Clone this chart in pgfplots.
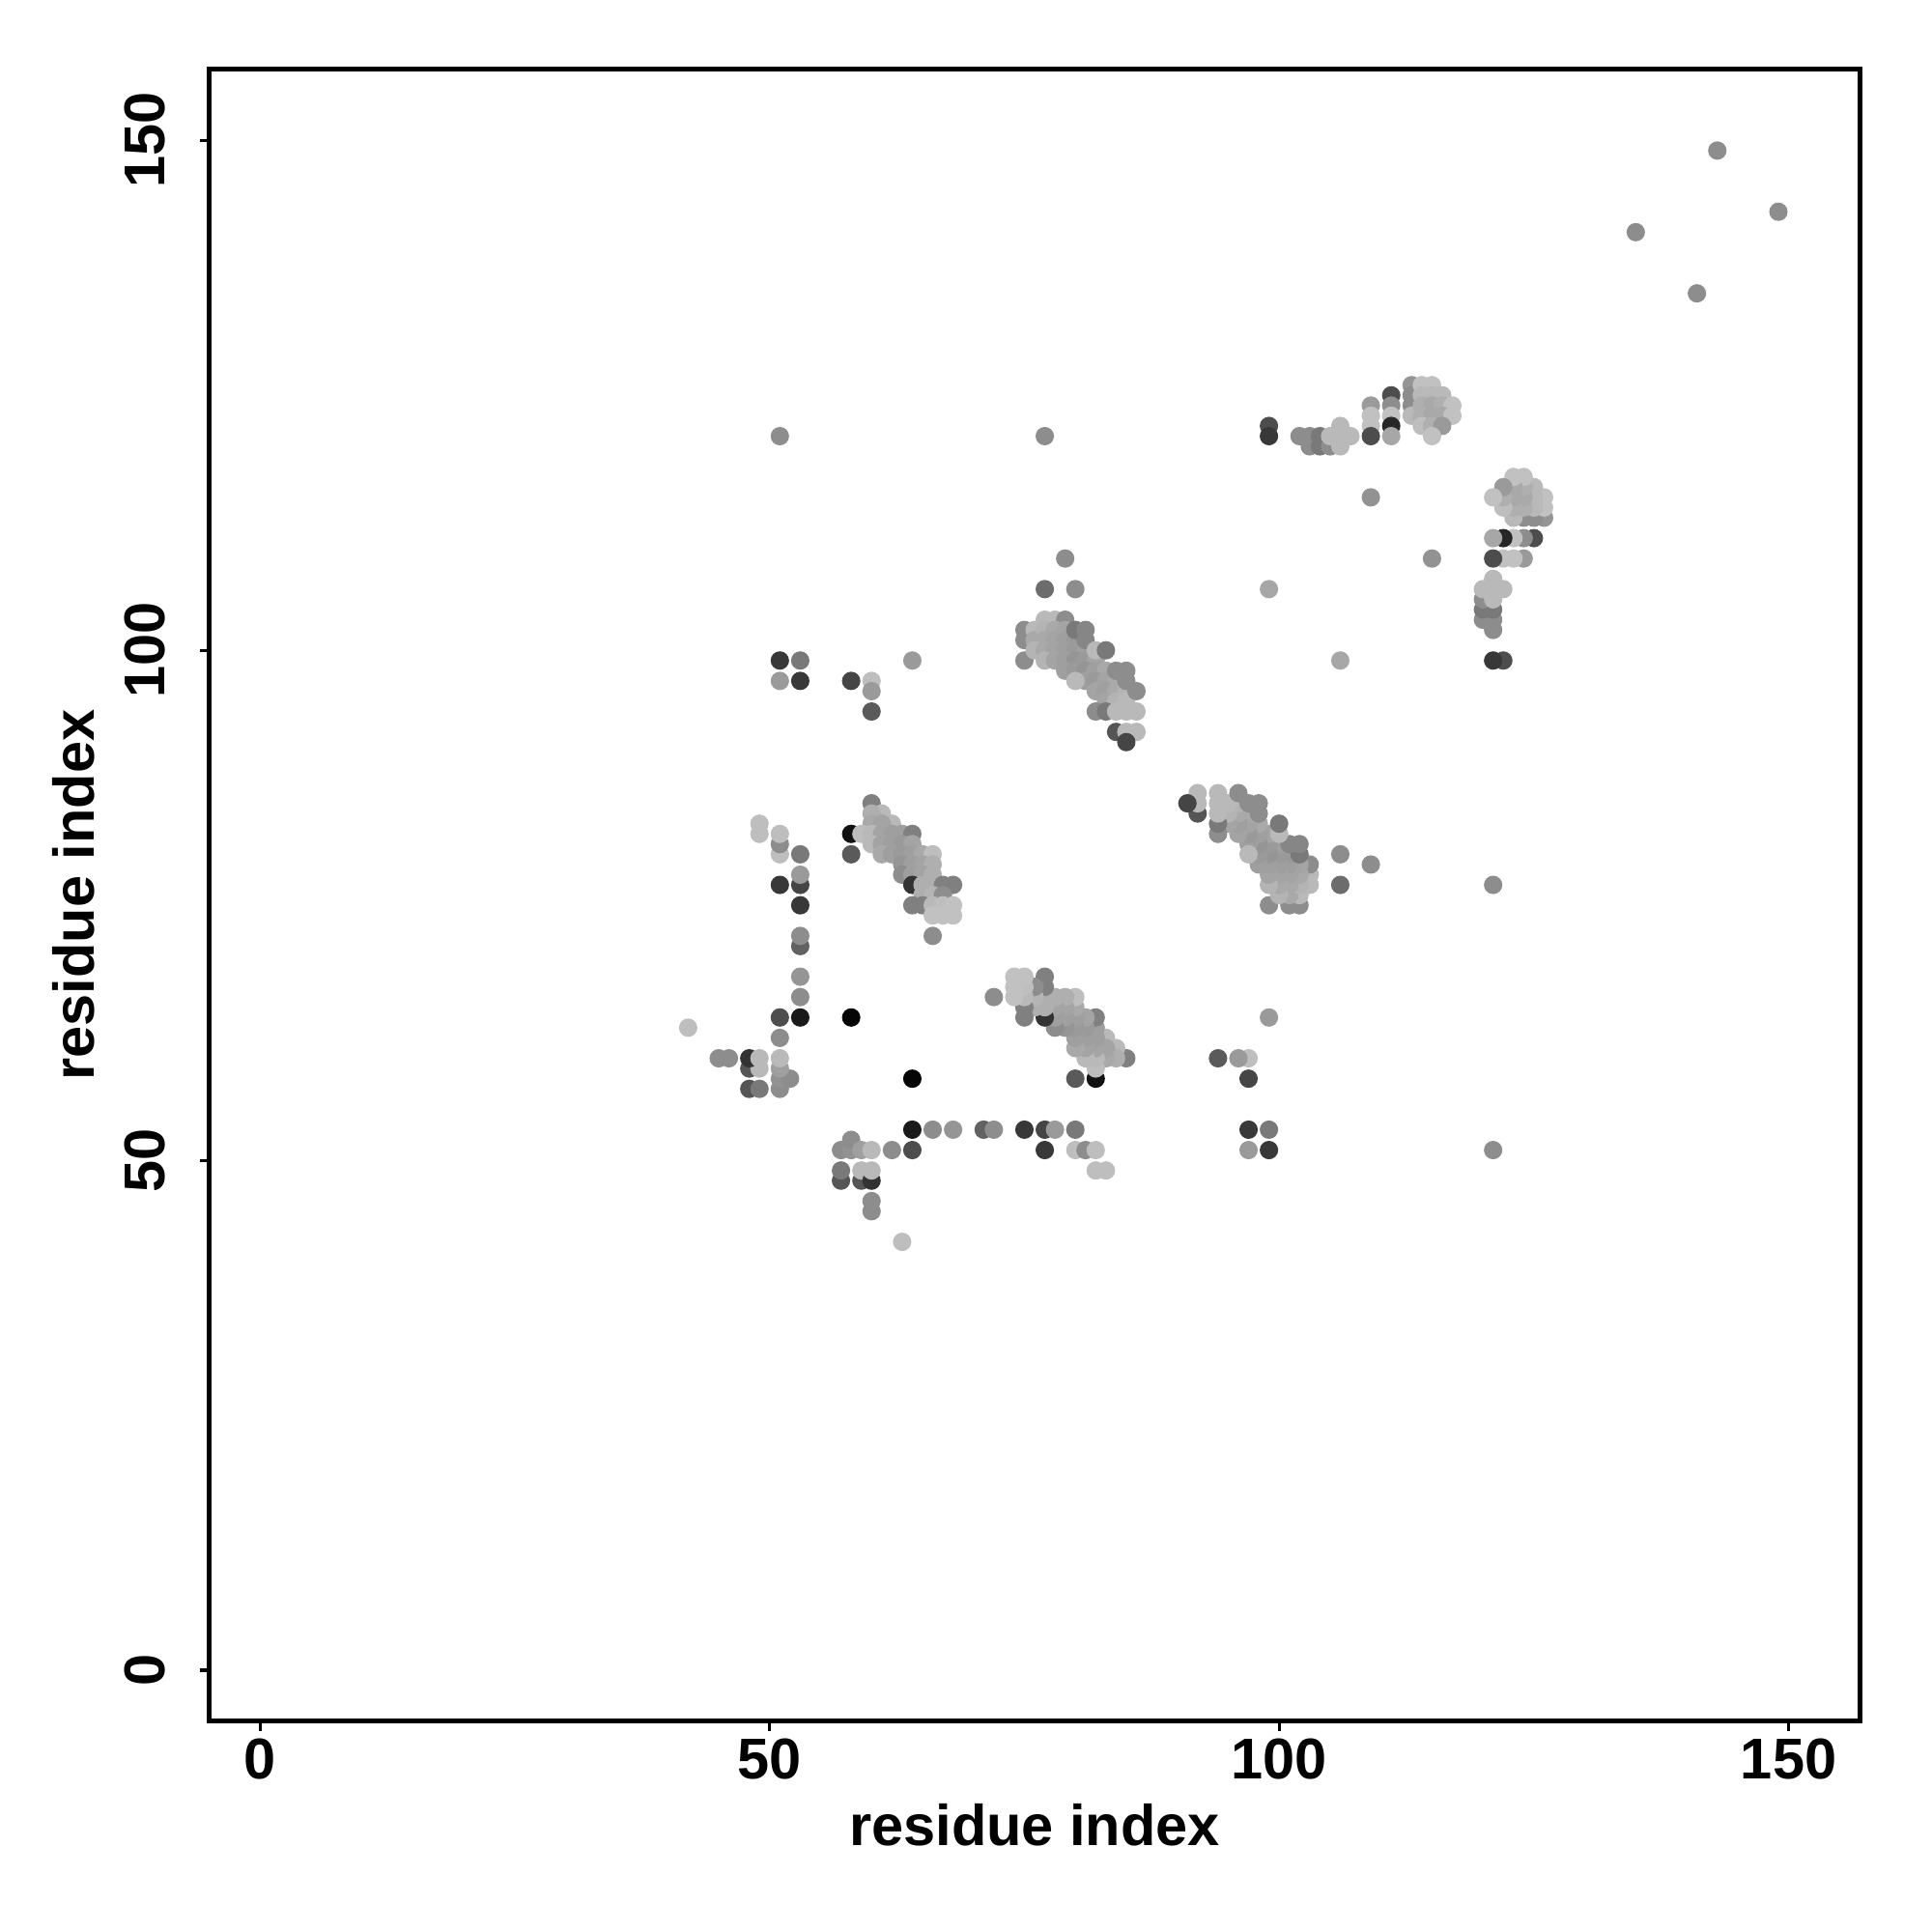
\documentclass[border=0pt]{standalone}
\usepackage{fontspec}
\setmainfont{Liberation Sans}
\usepackage{pgfplots}
\usepackage{pgfplotstable}
\pgfplotsset{compat=1.18}

% contacts with y > x (the map is symmetric; the mirror half is plotted by swapping columns)
\pgfplotstableread{
x y g
42 63 0.74
45 60 0.55
46 60 0.55
48 57 0.33
49 57 0.47
51 57 0.55
51 58 0.57
52 58 0.55
48 59 0.33
49 59 0.72
51 59 0.62
48 60 0.20
49 60 0.72
51 60 0.72
51 62 0.55
51 64 0.30
53 64 0.10
58 64 0.02
53 66 0.55
53 68 0.58
53 71 0.38
53 72 0.55
53 75 0.22
51 77 0.22
53 77 0.27
53 78 0.60
51 80 0.74
53 80 0.47
51 81 0.55
51 82 0.74
49 82 0.74
49 83 0.74
58 80 0.35
58 82 0.07
60 85 0.50
61 84 0.72
60 84 0.68
62 83 0.72
60 83 0.66
61 83 0.64
59 82 0.74
60 82 0.72
61 82 0.64
62 82 0.62
63 82 0.62
64 82 0.50
60 81 0.72
61 81 0.64
62 81 0.62
63 81 0.60
64 81 0.64
61 80 0.66
62 80 0.62
63 80 0.60
64 80 0.62
65 80 0.66
66 80 0.74
63 79 0.58
64 79 0.62
65 79 0.64
66 79 0.68
63 78 0.55
64 78 0.62
65 78 0.64
66 78 0.68
64 77 0.20
65 77 0.68
66 77 0.68
67 77 0.50
68 77 0.50
65 76 0.68
66 76 0.70
67 76 0.55
64 75 0.50
65 75 0.50
66 75 0.72
67 75 0.74
68 75 0.75
66 74 0.75
67 74 0.75
68 74 0.75
66 72 0.55
79 109 0.55
77 106 0.42
80 106 0.55
75 102 0.55
75 101 0.55
75 99 0.55
76 102 0.72
77 103 0.72
78 103 0.72
79 103 0.55
76 101 0.66
77 102 0.70
78 102 0.66
79 102 0.64
77 101 0.66
78 101 0.64
79 101 0.62
80 101 0.60
76 100 0.70
77 100 0.66
78 100 0.64
79 100 0.62
80 100 0.60
81 100 0.62
77 99 0.70
78 99 0.64
79 99 0.62
80 99 0.58
81 99 0.60
82 99 0.64
79 98 0.62
80 98 0.60
81 98 0.58
82 98 0.62
83 98 0.66
81 97 0.62
82 97 0.60
83 97 0.64
84 97 0.66
82 96 0.64
83 96 0.62
84 96 0.66
85 96 0.70
83 95 0.64
84 95 0.70
85 95 0.72
80 102 0.47
81 102 0.52
81 101 0.52
82 100 0.72
83 100 0.47
84 98 0.55
85 98 0.55
85 97 0.55
86 96 0.55
80 97 0.72
82 94 0.55
83 94 0.47
84 94 0.72
85 94 0.72
86 94 0.72
84 92 0.33
85 92 0.72
86 92 0.72
85 91 0.27
51 99 0.22
53 99 0.47
51 97 0.60
53 97 0.22
58 97 0.27
60 97 0.74
60 96 0.60
60 94 0.35
64 99 0.60
51 121 0.55
77 121 0.55
99 106 0.65
109 115 0.57
99 122 0.30
99 121 0.22
102 121 0.55
103 121 0.55
103 120 0.55
104 121 0.47
104 120 0.47
105 120 0.55
105 121 0.72
106 122 0.72
106 121 0.72
106 120 0.72
107 121 0.72
109 124 0.60
109 123 0.75
109 122 0.75
109 121 0.30
111 125 0.30
111 124 0.55
111 123 0.75
111 122 0.15
111 121 0.65
113 126 0.58
113 125 0.55
113 124 0.55
113 123 0.72
114 126 0.75
115 126 0.75
114 125 0.72
115 125 0.72
116 125 0.72
114 124 0.68
115 124 0.66
116 124 0.68
117 124 0.75
114 123 0.68
115 123 0.66
116 123 0.66
117 123 0.75
114 122 0.74
115 122 0.68
116 122 0.60
115 121 0.75
135 141 0.55
143 149 0.55
}\contacts

\begin{document}
\begin{tikzpicture}
\begin{axis}[name=ax, scale only axis, width=430.7pt, height=431.1pt,
 xmin=-5, xmax=157, ymin=-5, ymax=157,
 xtick={0,50,100,150}, ytick={0,50,100,150},
 xtick pos=bottom, ytick pos=left, tick align=outside, major tick length=2.5pt,
 axis line style={line width=1.3pt},
 every tick/.style={black, line width=0.8pt},
 /pgf/number format/assume math mode=true,
 ticklabel style={font=\fontsize{15}{18}\selectfont\bfseries},
 xticklabel style={anchor=north, inner xsep=0pt, inner ysep=1.8pt},
 yticklabel style={rotate=90, anchor=south, inner xsep=0pt, inner ysep=8.8pt},
 xlabel={residue index}, ylabel={residue index},
 label style={font=\fontsize{15}{18}\selectfont\bfseries},
 xlabel style={at={(axis description cs:0.5,0)}, anchor=north, inner xsep=0pt, inner ysep=21.3pt},
 ylabel style={at={(axis description cs:0,0.5)}, anchor=south, inner xsep=0pt, inner ysep=29.8pt},
 colormap={greys}{gray(0cm)=(0); gray(1cm)=(1)},
 point meta min=0, point meta max=1,
]
\addplot[scatter, only marks, mark=*, mark size=2.2pt, point meta=explicit,
  scatter/use mapped color={draw=mapped color, fill=mapped color}]
  table[x=x, y=y, meta=g]{\contacts};
\addplot[scatter, only marks, mark=*, mark size=2.2pt, point meta=explicit,
  scatter/use mapped color={draw=mapped color, fill=mapped color}]
  table[x=y, y=x, meta=g]{\contacts};
\end{axis}
\pgfresetboundingbox
\path[use as bounding box] ([shift={(-54.6pt,-55pt)}]ax.south west) rectangle ([shift={(18.6pt,18pt)}]ax.north east);
\end{tikzpicture}
\end{document}
